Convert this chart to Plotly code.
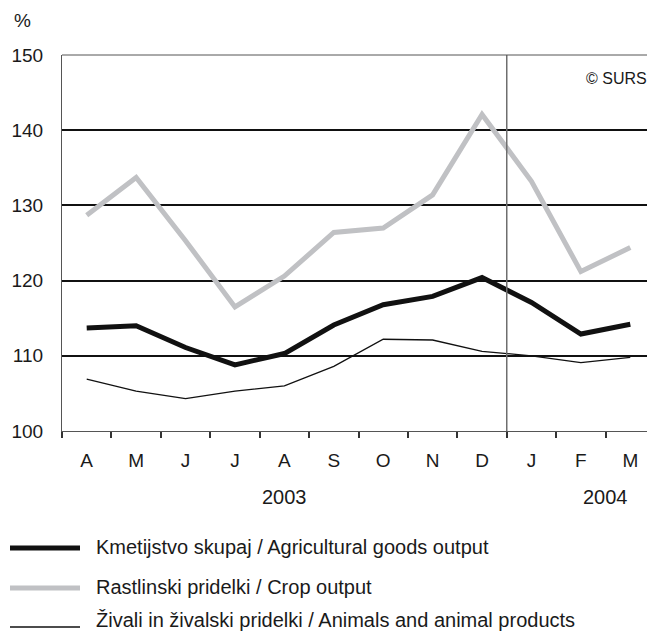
import plotly.graph_objects as go

months = ["A", "M", "J", "J", "A", "S", "O", "N", "D", "J", "F", "M"]
years = ["2003", "2004"]
total = [113.7, 114.0, 111.1, 108.8, 110.3, 114.1, 116.8, 117.9, 120.4, 117.1, 112.9, 114.2]
crop = [128.7, 133.7, 125.3, 116.5, 120.6, 126.4, 127.0, 131.4, 142.1, 133.2, 121.2, 124.4]
animal = [106.9, 105.3, 104.3, 105.3, 106.0, 108.6, 112.2, 112.1, 110.6, 110.0, 109.1, 109.8]
names = [
    "Kmetijstvo skupaj / Agricultural goods output",
    "Rastlinski pridelki / Crop output",
    "Živali in živalski pridelki / Animals and animal products",
]

x = list(range(len(months)))
FONT = "Liberation Sans, Arial, sans-serif"
GRAY = "#c0c1c4"
TXT = "#1a1a1a"

fig = go.Figure()
styles = [
    dict(color="#111111", width=5),
    dict(color=GRAY, width=5),
    dict(color="#111111", width=1.3),
]
series = [total, crop, animal]
for idx in [1, 2, 0]:
    fig.add_trace(go.Scatter(x=x, y=series[idx], mode="lines", name=names[idx],
                             line=styles[idx], showlegend=False, hoverinfo="skip"))

# page body has an 8px margin; compensate so the figure lines up with the window
OFF = 8
W, H = 655 - OFF, 632 - OFF
L, T = 62 - OFF, 55 - OFF
B = H - (431 - OFF)
R = 0
pw = W - L - R
ph = H - T - B

def px_x(X):
    return (X - OFF - L) / pw

def px_y(Y):
    return (H - B - (Y - OFF)) / ph

shapes = []
shapes.append(dict(type="line", xref="x", yref="paper", x0=8.5, x1=8.5, y0=0, y1=1,
                   line=dict(color="#6e6e6e", width=1.5)))
shapes.append(dict(type="line", xref="paper", yref="paper", x0=0, x1=1, y0=1, y1=1,
                   line=dict(color="#555555", width=1)))

annotations = []
for xi, yr in zip([4, 10.5], years):
    annotations.append(dict(x=xi, y=px_y(497), xref="x", yref="paper", text=yr,
                            xanchor="center", yanchor="middle", showarrow=False,
                            font=dict(family=FONT, size=20, color=TXT)))
annotations.append(dict(x=px_x(22), y=px_y(21), xref="paper", yref="paper", text="%",
                        xanchor="center", yanchor="middle", showarrow=False,
                        font=dict(family=FONT, size=19, color=TXT)))
annotations.append(dict(x=px_x(649), y=px_y(78), xref="paper", yref="paper", text="© SURS",
                        xanchor="right", yanchor="middle", showarrow=False,
                        font=dict(family=FONT, size=16, color=TXT)))

leg_y = [548, 588, 627]
txt_y = [547, 587, 620]
for i in range(3):
    st = styles[i]
    shapes.append(dict(type="line", xref="paper", yref="paper",
                       x0=px_x(10), x1=px_x(80), y0=px_y(leg_y[i]), y1=px_y(leg_y[i]),
                       line=dict(color=st["color"], width=st["width"])))
    annotations.append(dict(x=px_x(94), y=px_y(txt_y[i]), xref="paper", yref="paper",
                            text=names[i], xanchor="left", yanchor="middle", showarrow=False,
                            font=dict(family=FONT, size=20, color=TXT)))

fig.update_layout(
    width=W, height=H,
    margin=dict(l=L, r=R, t=T, b=B),
    paper_bgcolor="white", plot_bgcolor="white",
    showlegend=False,
    shapes=shapes, annotations=annotations,
    font=dict(family=FONT, size=19, color=TXT),
)
fig.update_xaxes(
    tickmode="array", tickvals=x, ticktext=months,
    range=[-0.5, 11.5], showgrid=False, zeroline=False,
    showline=True, linecolor="#555555", linewidth=1.2,
    ticks="", ticklabelstandoff=12,
    tickfont=dict(size=19, family=FONT, color=TXT),
)
fig.update_xaxes(minor=dict(tickmode="array", tickvals=[i - 0.5 for i in range(13)],
                            ticks="outside", ticklen=6, tickcolor="#333", tickwidth=1.5))
fig.update_yaxes(
    range=[100, 150], tickvals=[100, 110, 120, 130, 140, 150],
    showgrid=True, gridcolor="#111111", gridwidth=2,
    zeroline=False, showline=True, linecolor="#555555", linewidth=1.2,
    ticks="", ticklabelstandoff=14,
    tickfont=dict(size=19, family=FONT, color=TXT),
)

fig.write_html("out.html")
